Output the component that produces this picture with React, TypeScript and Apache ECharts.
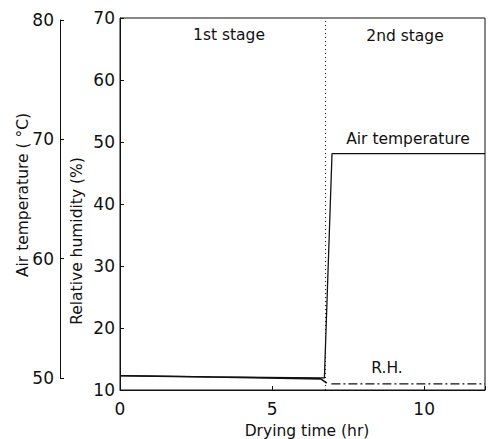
import React, { useEffect, useRef } from "react";
import * as echarts from "echarts";

// ---- data ----
const xTicks = [0, 5, 10];
const rhTicks = [10, 20, 30, 40, 50, 60, 70];
const tempTicks = [50, 60, 70, 80];

const stageBoundaryHr = 6.75;

const airTempTime = [0, 3, 6.6, 6.72, 6.97, 9, 12];
const airTempValue = [50.2, 50.1, 50.0, 50.0, 68.8, 68.8, 68.8];

const rhStage1Time = [0, 3, 6.6, 6.8];
const rhStage1Value = [12.3, 12.1, 11.8, 11.1];
const rhStage2Time = [6.95, 9, 12];
const rhStage2Value = [11.0, 11.0, 11.0];

const FONT = "DejaVu Sans";
const INK = "#111";

export default function App() {
  const ref = useRef<HTMLDivElement>(null);
  useEffect(() => {
    if (!ref.current) return;
    const chart = echarts.init(ref.current, undefined, { renderer: "svg" });
    const zip = (a: number[], b: number[]) => a.map((v, i) => [v, b[i]]);
    const textStyle = (text: string, size: number) => ({
      text,
      fill: INK,
      font: `${size}px "${FONT}"`,
      align: "center",
      verticalAlign: "middle",
    });
    chart.setOption({
      animation: false,
      backgroundColor: "#fff",
      grid: [
        { left: 120, right: 6, top: 18, bottom: 49, show: true, borderColor: INK, borderWidth: 1, backgroundColor: "transparent" },
        { left: 120, right: 6, top: 20, bottom: 61, show: false },
      ],
      xAxis: [
        {
          type: "value",
          gridIndex: 0,
          min: 0,
          max: 12,
          interval: 5,
          axisLine: { show: true, lineStyle: { color: INK } },
          axisTick: { show: true, inside: true, length: 4, lineStyle: { color: INK } },
          axisLabel: {
            color: INK,
            fontFamily: FONT,
            fontSize: 17,
            margin: 10,
            customValues: xTicks,
          },
          splitLine: { show: false },
        },
        {
          type: "value",
          gridIndex: 1,
          min: 0,
          max: 12,
          show: false,
        },
      ],
      yAxis: [
        {
          type: "value",
          gridIndex: 0,
          min: rhTicks[0],
          max: rhTicks[rhTicks.length - 1],
          interval: 10,
          axisLine: { show: true, onZero: false, lineStyle: { color: INK } },
          axisTick: { show: true, inside: true, length: 4, lineStyle: { color: INK } },
          axisLabel: { color: INK, fontFamily: FONT, fontSize: 17, margin: 5 },
          splitLine: { show: false },
        },
        {
          type: "value",
          gridIndex: 1,
          position: "left",
          offset: 60,
          min: tempTicks[0],
          max: tempTicks[tempTicks.length - 1],
          interval: 10,
          axisLine: { show: true, onZero: false, lineStyle: { color: INK } },
          axisTick: { show: true, inside: true, length: 4, lineStyle: { color: INK } },
          axisLabel: { color: INK, fontFamily: FONT, fontSize: 17, margin: 6 },
          splitLine: { show: false },
        },
      ],
      series: [
        {
          type: "line",
          name: "Air temperature",
          xAxisIndex: 1,
          yAxisIndex: 1,
          data: zip(airTempTime, airTempValue),
          showSymbol: false,
          lineStyle: { color: INK, width: 1.3 },
        },
        {
          type: "line",
          name: "R.H. stage 1",
          xAxisIndex: 0,
          yAxisIndex: 0,
          data: zip(rhStage1Time, rhStage1Value),
          showSymbol: false,
          lineStyle: { color: INK, width: 1.6 },
          markLine: {
            silent: true,
            symbol: "none",
            label: { show: false },
            lineStyle: { color: INK, type: [1, 3], width: 1 },
            data: [{ xAxis: stageBoundaryHr }],
          },
        },
        {
          type: "line",
          name: "R.H. stage 2",
          xAxisIndex: 0,
          yAxisIndex: 0,
          data: zip(rhStage2Time, rhStage2Value),
          showSymbol: false,
          lineStyle: { color: INK, width: 1.2, type: [9, 3, 2, 3] },
        },
      ],
      graphic: [
        { type: "text", x: 229, y: 35, style: textStyle("1st stage", 15.5) },
        { type: "text", x: 405, y: 36, style: textStyle("2nd stage", 15.5) },
        { type: "text", x: 408, y: 139, style: textStyle("Air temperature", 15.5) },
        { type: "text", x: 387, y: 368, style: textStyle("R.H.", 15.5) },
        { type: "text", x: 307, y: 431, style: textStyle("Drying time (hr)", 15.5) },
        { type: "text", x: 23, y: 195, rotation: Math.PI / 2, style: textStyle("Air temperature ( °C)", 15.5) },
        { type: "text", x: 77, y: 241, rotation: Math.PI / 2, style: textStyle("Relative humidity (%)", 15.5) },
      ],
    });
    return () => chart.dispose();
  }, []);
  return (
    <div
      ref={ref}
      style={{ position: "fixed", left: 0, top: 0, width: 491, height: 439, background: "#fff" }}
    />
  );
}
